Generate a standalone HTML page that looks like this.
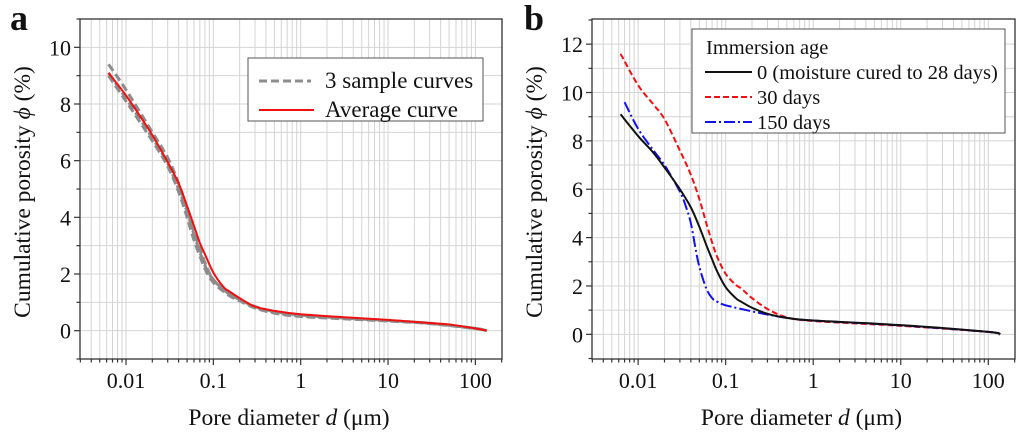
<!DOCTYPE html>
<html><head><meta charset="utf-8"><style>
html,body{margin:0;padding:0;background:#fff;}
svg{display:block;font-family:"Liberation Serif",serif;}
</style></head><body>
<svg id="fig" width="1024" height="437" viewBox="0 0 1024 437"></svg>
<script>
// ---------- data ----------
const tickValsX = [0.01, 0.1, 1, 10, 100];
const tickLabelsX = ["0.01", "0.1", "1", "10", "100"];
const tickValsYA = [0, 2, 4, 6, 8, 10];
const tickValsYB = [0, 2, 4, 6, 8, 10, 12];

const avgD = [0.0063,0.01,0.015,0.02,0.03,0.04,0.05,0.06,0.07,0.08,0.1,0.13,0.15,0.2,0.3,0.5,1,3,10,30,50,100,135];
const avgP = [9.1,8.3,7.5,6.9,5.95,5.2,4.4,3.7,3.1,2.7,2.05,1.55,1.4,1.15,0.85,0.7,0.58,0.48,0.38,0.27,0.22,0.08,0];
const s1D = [0.0063,0.01,0.02,0.03,0.04,0.05,0.06,0.08,0.1,0.15,0.2,0.3,0.5,1,3,10,30,100,135];
const s1P = [9.4,8.5,7.0,6.1,5.2,4.3,3.5,2.4,1.8,1.3,1.1,0.85,0.68,0.55,0.45,0.36,0.26,0.08,0];
const s2D = [0.0063,0.01,0.02,0.03,0.04,0.05,0.06,0.08,0.1,0.15,0.2,0.3,0.5,1,3,10,30,100,135];
const s2P = [9.0,8.1,6.7,5.8,4.9,4.0,3.2,2.2,1.7,1.25,1.05,0.8,0.62,0.5,0.42,0.34,0.25,0.07,0];
const s3D = [0.0063,0.01,0.02,0.03,0.04,0.05,0.06,0.08,0.1,0.15,0.2,0.3,0.5,1,3,10,30,100,135];
const s3P = [9.1,8.2,6.8,5.9,5.0,4.2,3.4,2.3,1.8,1.3,1.1,0.82,0.65,0.52,0.44,0.35,0.26,0.08,0];

const blkD = [0.0063,0.01,0.015,0.02,0.03,0.04,0.05,0.06,0.07,0.08,0.1,0.13,0.15,0.2,0.3,0.5,1,10,100,135];
const blkP = [9.1,8.2,7.5,6.9,6.0,5.25,4.45,3.7,3.1,2.6,1.95,1.5,1.35,1.1,0.85,0.68,0.57,0.38,0.1,0];
const redD = [0.0063,0.01,0.015,0.02,0.03,0.04,0.05,0.06,0.07,0.08,0.1,0.13,0.15,0.2,0.3,0.5,1,10,100,135];
const redP = [11.6,10.3,9.5,8.9,7.6,6.6,5.6,4.6,3.8,3.2,2.5,2.05,1.9,1.5,1.05,0.7,0.55,0.35,0.1,0];
const bluD = [0.007,0.01,0.015,0.02,0.03,0.035,0.04,0.045,0.05,0.06,0.07,0.08,0.1,0.2,0.3,0.5,1,10,100,135];
const bluP = [9.6,8.5,7.6,7.0,5.9,5.3,4.6,3.6,2.8,1.9,1.5,1.35,1.2,0.95,0.82,0.68,0.57,0.37,0.1,0];

// ---------- drawing ----------
const NS = "http://www.w3.org/2000/svg";
const svg = document.getElementById("fig");
function mk(tag, attrs, parent){const e=document.createElementNS(NS,tag);for(const k in attrs)e.setAttribute(k,attrs[k]);(parent||svg).appendChild(e);return e;}

function makePanel(p){
  const g = mk("g",{});
  
  
  const L=p.x0,R=p.x1,T=p.y0,B=p.y1;
  const lmin=-2.527,lmax=2.305;
  const sx=v=>L+(Math.log10(v)-lmin)/(lmax-lmin)*(R-L);
  const sy=v=>B-(v-p.ymin)/(p.ymax-p.ymin)*(B-T);
  const grid = mk("g",{stroke:"#d4d4d4","stroke-width":1},g);
  
  
  for(let e=-3;e<=2;e++)for(let m=1;m<10;m++){const v=m*Math.pow(10,e);const x=sx(v);if(x>L+1&&x<R-1)mk("line",{x1:x,x2:x,y1:T,y2:B},grid);}
  for(let v=Math.ceil(p.ymin);v<=p.ymax;v++){const y=sy(v);if(y>T+1&&y<B-1)mk("line",{x1:L,x2:R,y1:y,y2:y},grid);}
  const fr=mk("rect",{x:L,y:T,width:R-L,height:B-T,fill:"none",stroke:"#333","stroke-width":1.3},g);
  
  
  for(let e=-3;e<=2;e++)for(let m=1;m<10;m++){const v=m*Math.pow(10,e);const x=sx(v);if(x>=L&&x<=R){mk("line",{x1:x,x2:x,y1:B,y2:B+(m==1?6:3.5),stroke:"#333","stroke-width":1.2},g);}}
  tickValsX.forEach((v,i)=>{const t=mk("text",{x:sx(v),y:B+29,"text-anchor":"middle","font-size":22,fill:"#111"},g);t.textContent=tickLabelsX[i];
    
    });
  for(let v=Math.ceil(p.ymin);v<=p.ymax;v++){const y=sy(v);mk("line",{x1:L,x2:L-(v%2==0?6:3.5),y1:y,y2:y,stroke:"#333","stroke-width":1.2},g);}
  p.yticks.forEach(v=>{const t=mk("text",{x:L-9,y:sy(v)+8,"text-anchor":"end","font-size":22,fill:"#111"},g);t.textContent=String(v);
    
    });
  const xt=mk("text",{x:(L+R)/2-2,y:425,"text-anchor":"middle","font-size":23.5,fill:"#111"},g);
  xt.innerHTML='Pore diameter <tspan font-style="italic">d</tspan> (μm)';
  
  
  const yt=mk("text",{x:0,y:0,"text-anchor":"middle","font-size":23.5,fill:"#111",transform:`translate(${p.ytx},${p.yty}) rotate(-90)`},g);
  yt.innerHTML='Cumulative porosity <tspan font-style="italic">ϕ</tspan> (%)';
  
  
  const pl=mk("text",{x:p.lx,y:30,"font-size":36,"font-weight":"bold",fill:"#111"},g);
  pl.textContent=p.label;
  
  
  function curve(D,P,style,name){
    const pts=D.map((d,i)=>[sx(d),sy(P[i])]);
    let d="M"+pts[0][0]+","+pts[0][1];
    for(let i=0;i<pts.length-1;i++){
      const p0=pts[Math.max(i-1,0)],p1=pts[i],p2=pts[i+1],p3=pts[Math.min(i+2,pts.length-1)];
      const c1=[p1[0]+(p2[0]-p0[0])/6,p1[1]+(p2[1]-p0[1])/6];
      const c2=[p2[0]-(p3[0]-p1[0])/6,p2[1]-(p3[1]-p1[1])/6];
      d+=` C${c1[0]},${c1[1]} ${c2[0]},${c2[1]} ${p2[0]},${p2[1]}`;
    }
    const path=mk("path",Object.assign({d:d,fill:"none"},style),g);
    
    
  }
  p.series.forEach(s=>curve(s[0],s[1],s[2],s[3]));
  const lg=mk("g",{},g);
  
  
  mk("rect",{x:p.leg.x,y:p.leg.y,width:p.leg.w,height:p.leg.h,fill:"#fff",stroke:"#555","stroke-width":1},lg);
  p.leg.items.forEach(it=>{
    if(it.style){mk("line",Object.assign({x1:it.lx1,x2:it.lx2,y1:it.y-7,y2:it.y-7},it.style),lg);}
    const t=mk("text",{x:it.tx,y:it.y,"font-size":p.leg.fs,fill:"#111"},lg);t.textContent=it.text;
    
    
  });
}

const gray={stroke:"#8c8c8c","stroke-width":3,"stroke-dasharray":"8,4"};
const red2={stroke:"#f01010","stroke-width":2};
makePanel({name:"panel-a",label:"a",lx:10,x0:80,x1:502,y0:19,y1:359,ymin:-1,ymax:11,yticks:tickValsYA,ytx:30,yty:192,
  series:[[s1D,s1P,gray,"sample-curve-1"],[s2D,s2P,gray,"sample-curve-2"],[s3D,s3P,gray,"sample-curve-3"],[avgD,avgP,red2,"average-curve"]],
  leg:{x:248,y:58,w:235,h:63,fs:23,items:[
    {text:"3 sample curves",tx:325,y:88,lx1:259,lx2:311,style:gray},
    {text:"Average curve",tx:325,y:117,lx1:259,lx2:314,style:red2}]}});
const blk={stroke:"#111","stroke-width":2};
const redd={stroke:"#f01010","stroke-width":2,"stroke-dasharray":"6,3"};
const blu={stroke:"#1010f0","stroke-width":2,"stroke-dasharray":"11,3,2,3"};
makePanel({name:"panel-b",label:"b",lx:524,x0:592,x1:1015,y0:19,y1:359,ymin:-1.02,ymax:13.04,yticks:tickValsYB,ytx:542,yty:192,
  series:[[redD,redP,redd,"curve-30-days"],[bluD,bluP,blu,"curve-150-days"],[blkD,blkP,blk,"curve-0-days"]],
  leg:{x:692,y:29,w:313,h:104,fs:20.5,items:[
    {text:"Immersion age",tx:706,y:54},
    {text:"0 (moisture cured to 28 days)",tx:757,y:79,lx1:705,lx2:752,style:blk},
    {text:"30 days",tx:757,y:104,lx1:705,lx2:752,style:redd},
    {text:"150 days",tx:757,y:129,lx1:705,lx2:752,style:blu}]}});
</script>
</body></html>
